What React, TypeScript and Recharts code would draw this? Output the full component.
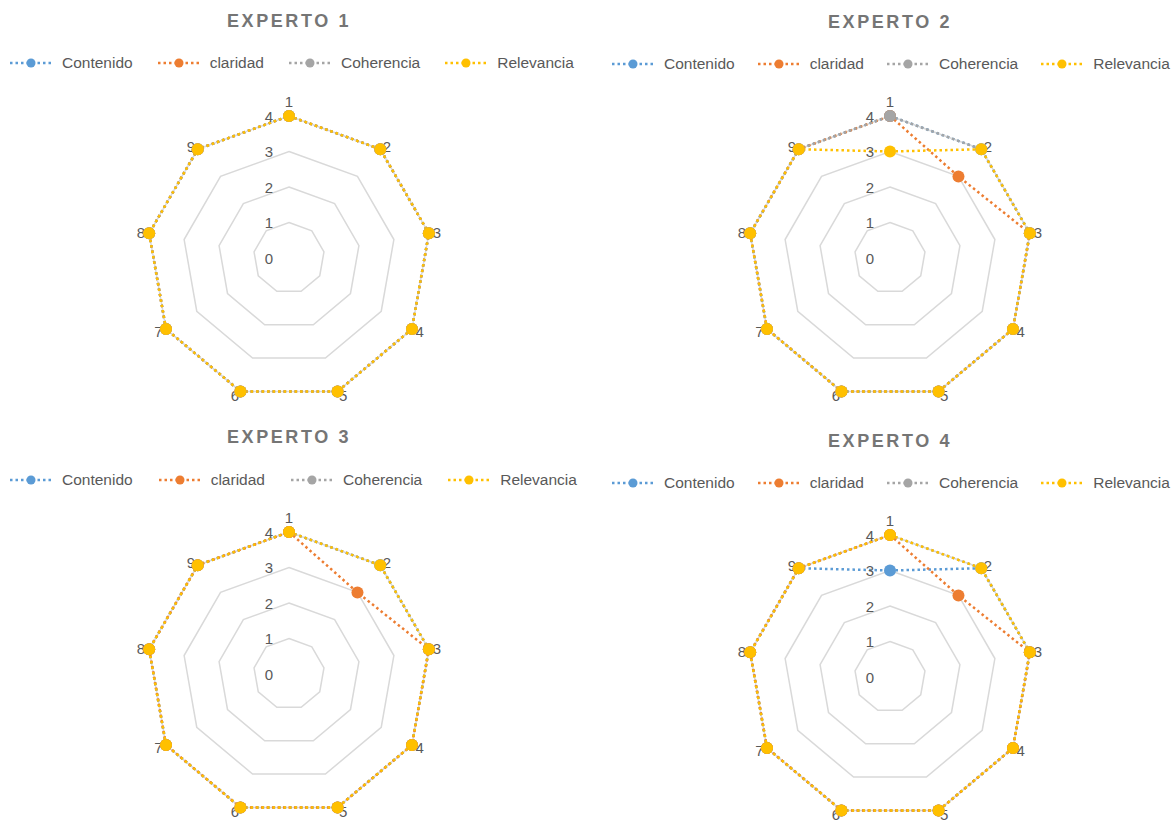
import React from "react";
import {
  RadarChart,
  Radar,
  PolarGrid,
  PolarAngleAxis,
  PolarRadiusAxis
} from "recharts";

// criterios evaluados (ejes del radar)
const criterios = ["1", "2", "3", "4", "5", "6", "7", "8", "9"];
const radiusTicks = [0, 1, 2, 3, 4];

const seriesNames = ["Contenido", "claridad", "Coherencia", "Relevancia"];
const seriesColors = ["#5b9bd5", "#ed7d31", "#a5a5a5", "#ffc000"];

// EXPERTO 1
const e1Contenido = [4, 4, 4, 4, 4, 4, 4, 4, 4];
const e1Claridad = [4, 4, 4, 4, 4, 4, 4, 4, 4];
const e1Coherencia = [4, 4, 4, 4, 4, 4, 4, 4, 4];
const e1Relevancia = [4, 4, 4, 4, 4, 4, 4, 4, 4];

// EXPERTO 2
const e2Contenido = [4, 4, 4, 4, 4, 4, 4, 4, 4];
const e2Claridad = [4, 3, 4, 4, 4, 4, 4, 4, 4];
const e2Coherencia = [4, 4, 4, 4, 4, 4, 4, 4, 4];
const e2Relevancia = [3, 4, 4, 4, 4, 4, 4, 4, 4];

// EXPERTO 3
const e3Contenido = [4, 4, 4, 4, 4, 4, 4, 4, 4];
const e3Claridad = [4, 3, 4, 4, 4, 4, 4, 4, 4];
const e3Coherencia = [4, 4, 4, 4, 4, 4, 4, 4, 4];
const e3Relevancia = [4, 4, 4, 4, 4, 4, 4, 4, 4];

// EXPERTO 4
const e4Contenido = [3, 4, 4, 4, 4, 4, 4, 4, 4];
const e4Claridad = [4, 3, 4, 4, 4, 4, 4, 4, 4];
const e4Coherencia = [4, 4, 4, 4, 4, 4, 4, 4, 4];
const e4Relevancia = [4, 4, 4, 4, 4, 4, 4, 4, 4];

const buildData = (series: number[][]) =>
  criterios.map((c, i) => {
    const row: Record<string, string | number> = { criterio: c };
    seriesNames.forEach((name, s) => {
      row[name] = series[s][i];
    });
    return row;
  });

const DASH = "2.5 3";
const FONT = "'Liberation Sans', Arial, sans-serif";
const TEXT = "#595959";

const Legend4 = ({ gap }: { gap: number }) => (
  <div style={{ display: "flex", alignItems: "center", whiteSpace: "nowrap" }}>
    {seriesNames.map((name, i) => (
      <div key={name} style={{ display: "flex", alignItems: "center", marginRight: gap }}>
        <svg width={42} height={12} style={{ marginRight: 10 }}>
          <line x1={0} y1={6} x2={42} y2={6} stroke={seriesColors[i]} strokeWidth={2.5} strokeDasharray={DASH} />
          <circle cx={21} cy={6} r={4.5} fill={seriesColors[i]} />
        </svg>
        <span style={{ fontSize: 15.5, color: TEXT }}>{name}</span>
      </div>
    ))}
  </div>
);

type PanelProps = {
  title: string;
  series: number[][];
  order: number[];
  left: number;
  top: number;
  cx: number;
  cy: number;
  titleY: number;
  legendX: number;
  legendY: number;
  legendGap: number;
};

const Panel = ({ title, series, order, left, top, cx, cy, titleY, legendX, legendY, legendGap }: PanelProps) => {
  const data = buildData(series);
  const angleTick = (props: any) => {
    const { x, y, textAnchor, payload } = props;
    const dy = textAnchor === "middle" ? (y < cy ? -11 : 8) : 0;
    return (
      <text x={x} y={y + dy} textAnchor={textAnchor} dominantBaseline="central" fontSize={15} fill={TEXT} fontFamily={FONT}>
        {payload.value}
      </text>
    );
  };
  const radiusTick = (props: any) => {
    const { x, y, payload } = props;
    return (
      <text x={x - 16} y={y} textAnchor="end" dominantBaseline="central" fontSize={15} fill={TEXT} fontFamily={FONT}>
        {payload.value}
      </text>
    );
  };
  const makeDot = (color: string) => (p: any) => (
    <circle key={`${color}-${p.index}`} cx={p.cx} cy={p.cy} r={6} fill={color} stroke="none" />
  );
  return (
    <div style={{ position: "absolute", left, top, width: 587, height: 411 }}>
      <RadarChart width={587} height={411} data={data} cx={cx} cy={cy} outerRadius={142} startAngle={90} endAngle={-270}>
        <PolarGrid gridType="polygon" radialLines={false} stroke="#d9d9d9" strokeWidth={1.5} />
        <PolarAngleAxis dataKey="criterio" tick={angleTick} tickLine={false} axisLine={false} tickSize={4} />
        <PolarRadiusAxis angle={90} domain={[0, 4]} ticks={radiusTicks as any} tickCount={5} axisLine={false} tick={radiusTick} />
        {order.map((s) => (
          <Radar
            key={seriesNames[s]}
            dataKey={seriesNames[s]}
            stroke={seriesColors[s]}
            strokeWidth={2.5}
            strokeDasharray={DASH}
            fill="none"
            fillOpacity={0}
            dot={makeDot(seriesColors[s])}
            isAnimationActive={false}
          />
        ))}
      </RadarChart>
      <div
        style={{
          position: "absolute",
          left: cx - 150,
          width: 300,
          top: titleY - 11,
          textAlign: "center",
          fontSize: 18,
          fontWeight: "bold",
          letterSpacing: 2.6,
          color: "#757575",
          lineHeight: "22px"
        }}
      >
        {title}
      </div>
      <div style={{ position: "absolute", left: legendX, top: legendY - 10, lineHeight: "20px" }}>
        <Legend4 gap={legendGap} />
      </div>
    </div>
  );
};

const App = () => (
  <div
    style={{
      position: "absolute",
      left: 0,
      top: 0,
      width: 1175,
      height: 823,
      background: "#fff",
      fontFamily: FONT,
      overflow: "hidden"
    }}
  >
    <Panel title="EXPERTO 1" series={[e1Contenido, e1Claridad, e1Coherencia, e1Relevancia]} order={[0, 1, 2, 3]}
      left={0} top={0} cx={289} cy={258} titleY={21} legendX={10} legendY={63} legendGap={25} />
    <Panel title="EXPERTO 2" series={[e2Contenido, e2Claridad, e2Coherencia, e2Relevancia]} order={[0, 1, 2, 3]}
      left={588} top={0} cx={302} cy={258} titleY={22} legendX={24} legendY={64} legendGap={23} />
    <Panel title="EXPERTO 3" series={[e3Contenido, e3Claridad, e3Coherencia, e3Relevancia]} order={[0, 2, 1, 3]}
      left={0} top={412} cx={289} cy={262} titleY={25} legendX={10} legendY={68} legendGap={26} />
    <Panel title="EXPERTO 4" series={[e4Contenido, e4Claridad, e4Coherencia, e4Relevancia]} order={[0, 2, 1, 3]}
      left={588} top={412} cx={302} cy={265} titleY={29} legendX={24} legendY={71} legendGap={23} />
  </div>
);

export default App;
